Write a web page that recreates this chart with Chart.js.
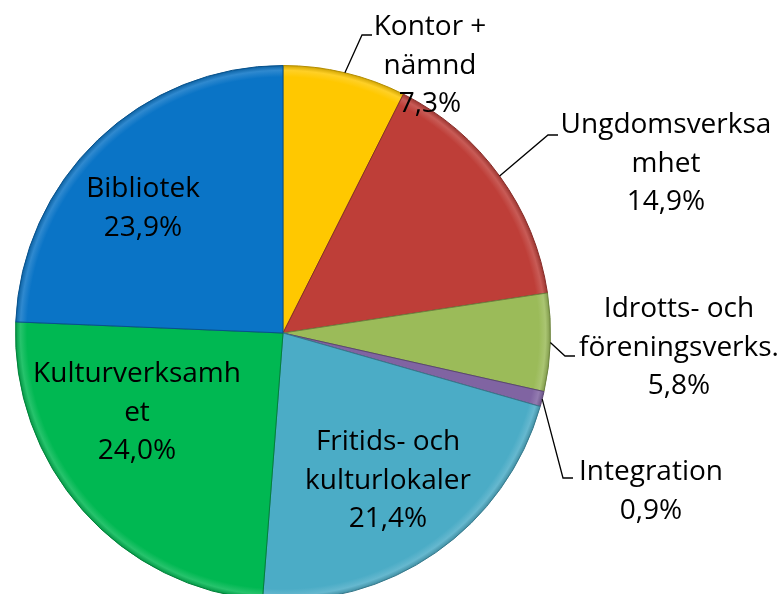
<!DOCTYPE html>
<html>
<head>
<meta charset="utf-8">
<script src="https://cdn.jsdelivr.net/npm/chart.js@4.4.0/dist/chart.umd.min.js"></script>
<style>
  html, body { margin: 0; padding: 0; background: #fff; overflow: hidden; }
  #wrap { width: 781px; height: 610px; }
</style>
</head>
<body>
<div id="wrap"><canvas id="budget" width="781" height="610"></canvas></div>
<script>
// data
const categories = ['Kontor + nämnd', 'Ungdomsverksamhet', 'Idrotts- och föreningsverks.', 'Integration', 'Fritids- och kulturlokaler', 'Kulturverksamhet', 'Bibliotek']
const values = [7.3, 14.9, 5.8, 0.9, 21.4, 24.0, 23.9]
// label text as it is wrapped in the picture
const labelLines = [['Kontor +', 'nämnd'], ['Ungdomsverksa', 'mhet'], ['Idrotts- och', 'föreningsverks.'], ['Integration'], ['Fritids- och', 'kulturlokaler'], ['Kulturverksamh', 'et'], ['Bibliotek']]

// styles
const colors = ['#FFC800', '#BE3E38', '#9BBB59', '#8064A2', '#4BACC6', '#00B852', '#0A74C6']
// label anchor: center x, baseline of first line
const labelAnchor = [[430, 35], [666, 133], [679, 317], [651, 480], [388, 450], [137, 382], [143, 197]]
// leader elbows (null = label inside slice)
const leaderElbow = [[362, 35], [548, 135], [565, 356], [563, 478], null, null, null]
const FONT = '28px "Open Sans"'
const LINE_H = 38.5

function shade(hex, f) {
    let n = parseInt(hex.slice(1), 16)
    let r = n >> 16, g = (n >> 8) & 255, b = n & 255
    if (f > 0) { r += (255 - r) * f; g += (255 - g) * f; b += (255 - b) * f }
    else { r *= 1 + f; g *= 1 + f; b *= 1 + f }
    return 'rgb(' + Math.round(r) + ',' + Math.round(g) + ',' + Math.round(b) + ')'
}

function sliceFill(context) {
    const chart = context.chart
    const base = colors[context.dataIndex]
    const area = chart.chartArea
    if (!area) return base
    const cx = (area.left + area.right) / 2, cy = (area.top + area.bottom) / 2
    const r = Math.min(area.right - area.left, area.bottom - area.top) / 2
    const g = chart.ctx.createRadialGradient(cx, cy, 0, cx, cy, r)
    g.addColorStop(0, base)
    g.addColorStop(0.955, base)
    g.addColorStop(0.98, shade(base, 0.15))
    g.addColorStop(1, shade(base, -0.2))
    return g
}

const labelPlugin = {
    id: 'sliceLabels',
    afterDatasetsDraw(chart) {
        const ctx = chart.ctx
        const meta = chart.getDatasetMeta(0)
        ctx.save()
        ctx.font = FONT
        ctx.fillStyle = '#000'
        ctx.textAlign = 'center'
        ctx.textBaseline = 'alphabetic'
        meta.data.forEach(function (arc, i) {
            const p = arc.getProps(['x', 'y', 'startAngle', 'endAngle', 'outerRadius'], true)
            const elbow = leaderElbow[i]
            if (elbow) {
                const mid = (p.startAngle + p.endAngle) / 2
                const ex = p.x + Math.cos(mid) * p.outerRadius
                const ey = p.y + Math.sin(mid) * p.outerRadius
                ctx.beginPath()
                ctx.strokeStyle = '#000'
                ctx.lineWidth = 1.3
                ctx.moveTo(ex, ey)
                ctx.lineTo(elbow[0], elbow[1])
                ctx.lineTo(elbow[0] + 10, elbow[1])
                ctx.stroke()
            }
            const lines = labelLines[i].concat([values[i].toFixed(1).replace('.', ',') + '%'])
            const a = labelAnchor[i]
            lines.forEach(function (t, k) {
                ctx.fillText(t, a[0], a[1] + k * LINE_H)
            })
        })
        ctx.restore()
    }
}

new Chart(document.getElementById('budget'), {
    type: 'pie',
    data: {
        labels: categories,
        datasets: [{
            data: values,
            backgroundColor: sliceFill,
            borderColor: colors.map(c => shade(c, -0.3)),
            borderWidth: 1
        }]
    },
    options: {
        responsive: false,
        animation: false,
        layout: { padding: { left: 15, right: 230, top: 65, bottom: 9 } },
        plugins: {
            legend: { display: false },
            tooltip: { enabled: false }
        }
    },
    plugins: [labelPlugin]
})
</script>
</body>
</html>
